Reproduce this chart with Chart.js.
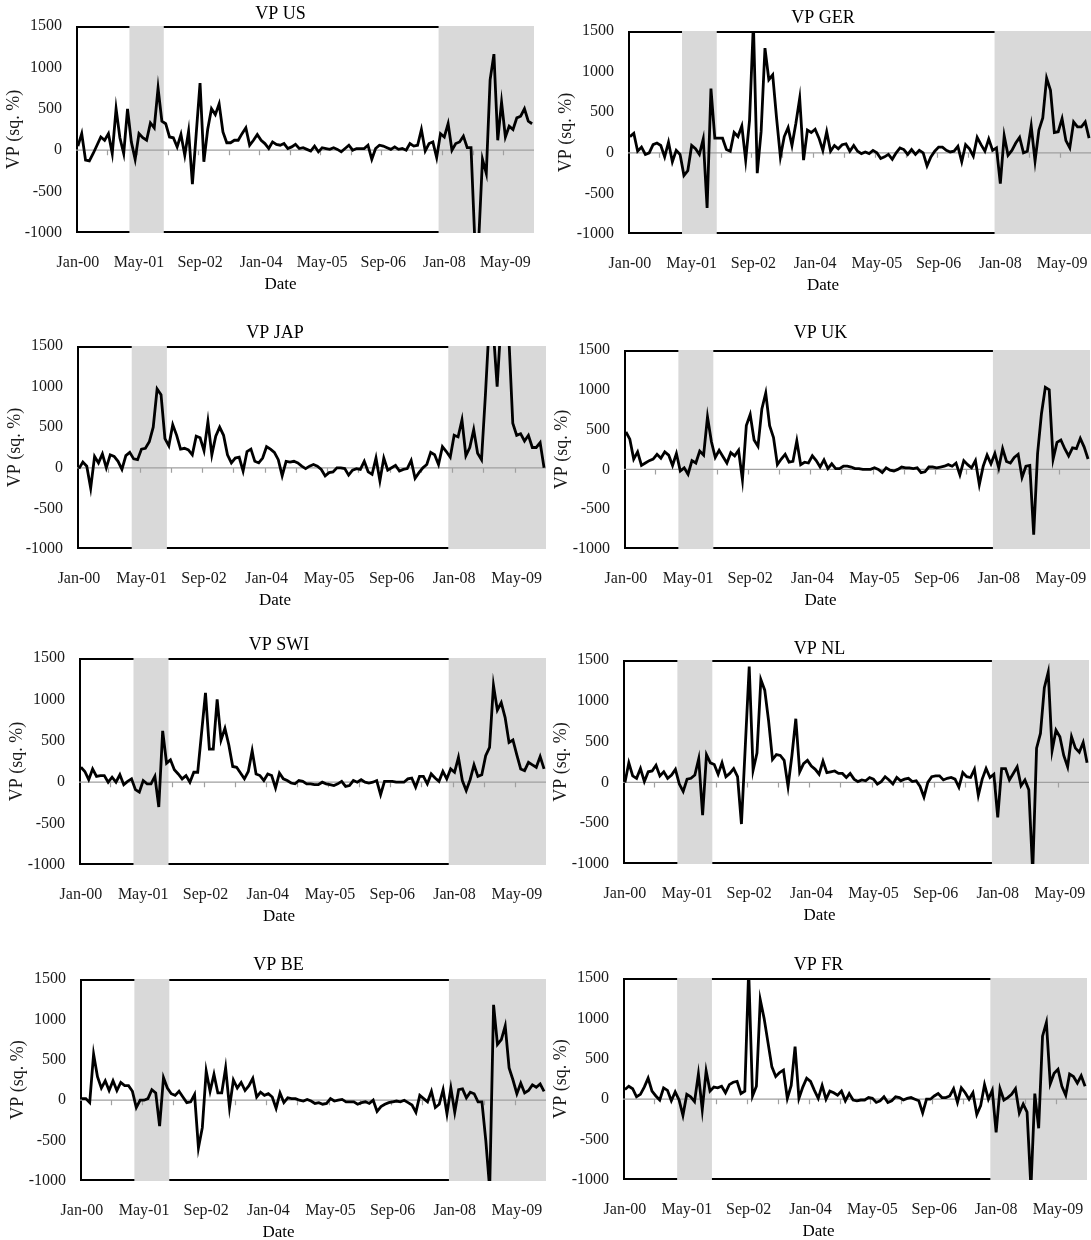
<!DOCTYPE html>
<html>
<head>
<meta charset="utf-8">
<script src="https://cdn.jsdelivr.net/npm/chart.js@4.4.1/dist/chart.umd.min.js"></script>
<style>
  html, body { margin: 0; padding: 0; background: #fff; }
  body { width: 1091px; height: 1240px; position: relative; overflow: hidden; }
  canvas { position: absolute; }
</style>
</head>
<body>
<script>
// ---------------- DATA ----------------
const months = [
  'Jan-00','Feb-00','Mar-00','Apr-00','May-00','Jun-00','Jul-00','Aug-00','Sep-00','Oct-00','Nov-00','Dec-00',
  'Jan-01','Feb-01','Mar-01','Apr-01','May-01','Jun-01','Jul-01','Aug-01','Sep-01','Oct-01','Nov-01','Dec-01',
  'Jan-02','Feb-02','Mar-02','Apr-02','May-02','Jun-02','Jul-02','Aug-02','Sep-02','Oct-02','Nov-02','Dec-02',
  'Jan-03','Feb-03','Mar-03','Apr-03','May-03','Jun-03','Jul-03','Aug-03','Sep-03','Oct-03','Nov-03','Dec-03',
  'Jan-04','Feb-04','Mar-04','Apr-04','May-04','Jun-04','Jul-04','Aug-04','Sep-04','Oct-04','Nov-04','Dec-04',
  'Jan-05','Feb-05','Mar-05','Apr-05','May-05','Jun-05','Jul-05','Aug-05','Sep-05','Oct-05','Nov-05','Dec-05',
  'Jan-06','Feb-06','Mar-06','Apr-06','May-06','Jun-06','Jul-06','Aug-06','Sep-06','Oct-06','Nov-06','Dec-06',
  'Jan-07','Feb-07','Mar-07','Apr-07','May-07','Jun-07','Jul-07','Aug-07','Sep-07','Oct-07','Nov-07','Dec-07',
  'Jan-08','Feb-08','Mar-08','Apr-08','May-08','Jun-08','Jul-08','Aug-08','Sep-08','Oct-08','Nov-08','Dec-08',
  'Jan-09','Feb-09','Mar-09','Apr-09','May-09','Jun-09','Jul-09','Aug-09','Sep-09','Oct-09','Nov-09','Dec-09'
];
const tickLabels = ['Jan-00','May-01','Sep-02','Jan-04','May-05','Sep-06','Jan-08','May-09'];
const yTicks = [-1000, -500, 0, 500, 1000, 1500];
const recessions = [['Mar-01','Nov-01'], ['Dec-07','Dec-09']];

const vpUS = [
  50, 200, -120, -130, -40, 60, 160, 120, 200, -40,
  500, 150, -40, 500, 100, -110, 200, 150, 120, 330,
  270, 750, 350, 320, 160, 150, 40, 190, -60, 230,
  -410, 200, 810, -140, 250, 500, 430, 560, 220, 90,
  90, 120, 120, 200, 270, 60, 120, 190, 120, 80,
  20, 100, 70, 60, 80, 20, 40, 70, 20, 30,
  10, -10, 50, -20, 30, 20, 10, 30, 10, -20,
  20, 60, 0, 20, 20, 20, 60, -110, 20, 60,
  50, 30, 10, 40, 10, 20, 0, 80, 50, 60,
  250, -10, 80, 100, -90, 200, 160, 320, 0, 80,
  100, 170, 30, 30, -1100, -1100, -110, -280, 850, 1160,
  120, 580, 160, 290, 250, 390, 410, 500, 350, 320
];
const vpGER = [
  200, 240, 20, 70, -20, 0, 100, 120, 90, -50,
  130, -110, 30, -20, -280, -220, 90, 50, -20, 170,
  -680, 790, 180, 180, 180, 40, 20, 250, 200, 330,
  -90, 400, 1600, -250, 260, 1290, 900, 960, 430, -50,
  200, 310, 90, 360, 670, -90, 280, 250, 290, 180,
  30, 260, 20, 90, 50, 100, 110, 20, 90, 20,
  -10, 10, -10, 30, 0, -70, -50, -20, -80, 0,
  60, 40, -20, 40, -20, 30, 0, -160, -50, 20,
  70, 70, 30, 10, 20, 80, -110, 100, 50, -40,
  190, 100, 20, 170, 30, 60, -380, 210, -30, 30,
  120, 190, 0, 20, 330, -100, 280, 430, 920, 770,
  250, 260, 420, 150, 60, 380, 320, 320, 380, 180
];
const vpJAP = [
  -10, 70, 20, -250, 140, 60, 170, 0, 160, 140,
  80, -20, 150, 190, 110, 100, 230, 240, 320, 500,
  970, 900, 360, 270, 530, 400, 230, 240, 220, 160,
  390, 370, 210, 570, 160, 390, 500, 400, 160, 60,
  120, 130, -40, 200, 230, 80, 60, 120, 260, 230,
  190, 100, -100, 80, 70, 80, 60, 20, -10, 20,
  40, 20, -20, -100, -60, -50, 0, 0, -10, -90,
  -30, -10, -20, 80, -50, -80, 120, -160, 120, -30,
  0, 30, -40, -20, -10, 90, -130, -60, 0, 40,
  190, 160, 40, 260, 200, 130, 400, 380, 590, 150,
  250, 470, 180, 100, 900, 1800, 1700, 1000, 1800, 1900,
  1600, 550, 400, 420, 330, 400, 250, 250, 310, 0
];
const vpUK = [
  470, 380, 130, 220, 50, 80, 110, 130, 190, 140,
  220, 180, 50, 200, -20, 20, -60, 110, 80, 230,
  180, 660, 350, 150, 240, 160, 80, 210, 170, 240,
  -130, 550, 690, 370, 290, 760, 960, 550, 400, 60,
  130, 190, 90, 100, 360, 60, 90, 80, 170, 110,
  30, 120, 10, 70, 10, 10, 40, 40, 30, 10,
  10, 0, 0, 0, 20, 0, -40, 20, -10, -20,
  0, 30, 20, 20, 10, 20, -40, -30, 30, 30,
  20, 30, 40, 60, 40, 80, -70, 110, 60, 20,
  110, -190, 40, 180, 70, 200, 20, 260, 100, 80,
  150, 190, -100, 40, 50, -820, 200, 700, 1030, 1000,
  130, 340, 370, 260, 170, 270, 260, 390, 280, 130
];
const vpSWI = [
  180, 130, 30, 160, 70, 80, 80, 0, 60, 0,
  90, -30, 10, 40, -90, -120, 20, -20, -20, 70,
  -300, 620, 230, 270, 150, 100, 40, 80, 0, 120,
  120, 600, 1080, 400, 400, 1000, 510, 650, 450, 190,
  180, 110, 40, 130, 380, 100, 80, 20, 100, 80,
  -70, 110, 40, 20, -10, -20, 20, 10, -20, -20,
  -30, -30, 0, -20, -30, -40, -20, 10, -50, -40,
  20, 0, 30, 0, -10, 0, 20, -150, 10, 10,
  10, 0, 0, 0, 40, 50, -60, 70, 70, -20,
  100, 50, 10, 130, 40, 160, 120, 300, 20, -100,
  30, 210, 70, 90, 320, 420, 1170, 870, 960, 780,
  480, 510, 330, 160, 140, 240, 210, 180, 310, 160
];
const vpNL = [
  0, 240, 80, 50, 170, 10, 130, 140, 210, 80,
  130, 50, 90, 160, -20, -110, 40, 50, 90, 290,
  -400, 340, 240, 220, 100, 240, 70, 110, 170, 70,
  -510, 450, 1420, 150, 360, 1260, 1130, 750, 280, 340,
  330, 270, -50, 330, 780, 130, 230, 270, 200, 160,
  100, 260, 120, 130, 140, 110, 110, 60, 110, 40,
  10, 30, 20, 60, 40, -20, 10, 70, 30, -20,
  60, 20, 40, 50, 10, 20, -50, -180, 0, 70,
  80, 80, 30, 50, 60, 40, -60, 120, 70, 60,
  160, -160, 40, 170, 60, 100, -430, 170, 170, 30,
  110, 190, -40, 30, -90, -1100, 420, 600, 1160, 1350,
  390, 640, 560, 330, 190, 560, 420, 370, 490, 240
];
const vpBE = [
  20, 20, -30, 570, 290, 150, 240, 120, 240, 120,
  220, 180, 180, 110, -90, 0, 0, 20, 130, 90,
  -320, 280, 150, 80, 60, 110, 40, -30, -20, 70,
  -590, -340, 360, 110, 320, 90, 90, 400, -90, 250,
  150, 220, 120, 180, 270, 40, 100, 60, 80, 40,
  -100, 90, -30, 30, 20, 20, 0, -10, 10, -10,
  -40, -30, -50, -40, 20, -10, 0, 10, -20, -20,
  -20, -50, -30, -20, -40, 0, -140, -80, -50, -30,
  -20, -10, -20, 0, -30, -60, -150, 60, 20, -20,
  110, -90, -50, 130, -170, 150, -150, 130, 140, 30,
  100, 80, -20, -20, -500, -1100, 1180, 690, 750, 920,
  400, 250, 80, 210, 90, 120, 190, 160, 200, 110
];
const vpFR = [
  120, 160, 130, 30, 60, 150, 260, 100, 40, -10,
  140, 110, -20, 90, -10, -200, 60, 30, -30, 310,
  -130, 350, 100, 150, 140, 160, 80, 180, 210, 220,
  70, 100, 1600, 40, 160, 1230, 1000, 700, 400, 280,
  330, 360, 10, 170, 650, 10, 150, 260, 220, 110,
  10, 170, 0, 100, 80, 50, 100, -20, 70, -10,
  -20, -10, -10, 20, 10, -40, -20, 30, -40, -20,
  30, 20, -10, 10, 20, 0, -20, -170, 0, 0,
  40, 70, 20, 20, 40, 130, -40, 140, 80, 0,
  80, -190, -80, 180, 0, 110, -410, 130, -10, 20,
  60, 130, -170, -60, -160, -1100, 70, -360, 780, 950,
  190, 320, 370, 160, 50, 310, 280, 200, 290, 160
];

const titles = ['VP US', 'VP GER', 'VP JAP', 'VP UK', 'VP SWI', 'VP NL', 'VP BE', 'VP FR'];
const series = [vpUS, vpGER, vpJAP, vpUK, vpSWI, vpNL, vpBE, vpFR];

// ---------------- LAYOUT (plot-area boxes in page pixels) ----------------
const boxes = [
  {L: 76,  T: 26,  R: 534,  B: 233,  tY: 13.3,  padR: 24},
  {L: 628, T: 31,  R: 1091, B: 234,  tY: 17.3,  padR: 0},
  {L: 77,  T: 346, R: 546,  B: 549,  tY: 332.7, padR: 0},
  {L: 624, T: 350, R: 1090, B: 549,  tY: 332.7, padR: 0},
  {L: 79,  T: 658, R: 546,  B: 865,  tY: 645,   padR: 6},
  {L: 623, T: 660, R: 1089, B: 864,  tY: 648.3, padR: 0},
  {L: 80,  T: 979, R: 546,  B: 1181, tY: 965,   padR: 4},
  {L: 623, T: 978, R: 1087, B: 1180, tY: 964.3, padR: 0}
];

const FONT = '"Liberation Serif", "Times New Roman", serif';
const TXT = '#1a1a1a';
const Y_W = 73;         // y-axis block width (title + labels)
const TITLE_LH = 21.6;  // 18px * 1.2
const DATE_LH = 20.4;   // 17px * 1.2
const BOTTOM = 62;      // plot bottom -> canvas bottom
const XLAB_LH = 59;     // x tick label line box: centre sits ~29px under the plot

const framePlugin = {
  id: 'frame',
  beforeDatasetsDraw(chart) {
    const {ctx, chartArea: a, scales: {x, y}} = chart;
    const w = a.width / months.length;
    ctx.save();
    // plot border (black), drawn under the shading
    ctx.strokeStyle = '#000';
    ctx.lineWidth = 2;
    ctx.strokeRect(a.left + 1, a.top + 1, a.width - 2, a.height - 2);
    // recession shading
    ctx.fillStyle = '#d9d9d9';
    for (const [s, e] of recessions) {
      const i0 = months.indexOf(s), i1 = months.indexOf(e);
      const x0 = x.getPixelForValue(i0) - w / 2;
      const x1 = x.getPixelForValue(i1) + w / 2;
      ctx.fillRect(x0, a.top, x1 - x0, a.height);
    }
    // zero axis line with tick marks
    const y0 = y.getPixelForValue(0);
    ctx.strokeStyle = '#a0a0a0';
    ctx.lineWidth = 1.2;
    ctx.beginPath();
    ctx.moveTo(a.left, y0);
    ctx.lineTo(a.right, y0);
    for (let k = 8; k < months.length; k += 8) {
      const px = Math.round(x.getPixelForValue(k) - w / 2) + 0.5;
      ctx.moveTo(px, y0);
      ctx.lineTo(px, y0 + 5);
    }
    ctx.stroke();
    ctx.restore();
  }
};

series.forEach((data, idx) => {
  const b = boxes[idx];
  const left = b.L - Y_W;
  const top = Math.round(b.tY - TITLE_LH / 2);
  const width = b.R + b.padR - left;
  const height = b.B + BOTTOM - top;
  const cv = document.createElement('canvas');
  cv.width = width; cv.height = height;
  cv.style.left = left + 'px'; cv.style.top = top + 'px';
  cv.style.width = width + 'px'; cv.style.height = height + 'px';
  document.body.appendChild(cv);

  const scales = {
    x: {
      type: 'category',
      offset: true,
      grid: {display: false, drawTicks: false},
      border: {display: false},
      ticks: {
        autoSkip: false, maxRotation: 0, minRotation: 0, padding: 0,
        color: TXT, font: {family: FONT, size: 16, lineHeight: XLAB_LH + 'px'},
        callback: (v, i) => tickLabels.includes(months[i]) ? months[i] : ''
      },
      afterFit: (s) => { s.height = BOTTOM - DATE_LH; }
    },
    y: {
      min: yTicks[0], max: yTicks[yTicks.length - 1],
      grid: {display: false, drawTicks: false},
      border: {display: false},
      afterBuildTicks: (s) => { s.ticks = yTicks.map(v => ({value: v})); },
      ticks: {
        padding: 14, color: TXT,
        font: {family: FONT, size: 16, lineHeight: 1.0},
        callback: (v) => String(v)
      },
      title: {
        display: true, text: 'VP (sq. %)', color: TXT,
        font: {family: FONT, size: 18, lineHeight: 1.2},
        padding: {top: 0, bottom: 0}
      },
      afterFit: (s) => { s.width = Y_W; }
    }
  };
  if (b.padR > 0) {
    // empty spacer on the right so the chart title / "Date" centre as in the original
    scales.yR = {
      type: 'linear', axis: 'y', position: 'right',
      grid: {display: false, drawTicks: false},
      border: {display: false},
      ticks: {display: false},
      afterFit: (s) => { s.width = b.padR; }
    };
  }

  new Chart(cv, {
    type: 'line',
    data: {
      labels: months,
      datasets: [{
        data: data,
        borderColor: '#000',
        borderWidth: 2.8,
        pointRadius: 0,
        tension: 0,
        fill: false,
        borderJoinStyle: 'miter'
      }]
    },
    options: {
      responsive: false,
      animation: false,
      devicePixelRatio: 1,
      layout: {padding: 0},
      plugins: {
        legend: {display: false},
        tooltip: {enabled: false},
        title: {
          display: true, text: titles[idx], color: '#000',
          font: {family: FONT, size: 18, weight: 'normal', lineHeight: 1.2},
          padding: {top: 0, bottom: b.T - top - TITLE_LH}
        },
        subtitle: {
          display: true, position: 'bottom', text: 'Date', color: '#000',
          font: {family: FONT, size: 17, weight: 'normal', lineHeight: 1.2},
          padding: {top: 0, bottom: 0}
        }
      },
      scales: scales
    },
    plugins: [framePlugin]
  });
});
</script>
</body>
</html>
